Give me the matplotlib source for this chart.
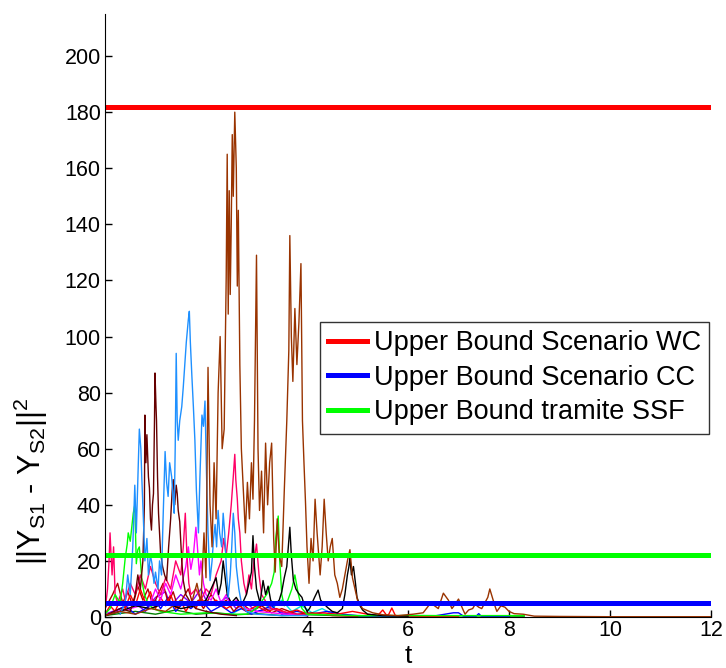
import matplotlib
matplotlib.use("Agg")
import matplotlib.pyplot as plt

plt.rcParams['font.family'] = ['Liberation Sans', 'DejaVu Sans']
plt.rcParams['mathtext.fontset'] = 'custom'
plt.rcParams['mathtext.rm'] = 'Liberation Sans'
plt.rcParams['mathtext.it'] = 'Liberation Sans'

# bounds
bound_wc = 182
bound_cc = 5
bound_ssf = 22

# trajectories: (t, value)
brown_t = [0, 0.3, 0.6, 0.9, 1.2, 1.5, 1.7, 1.82, 1.9, 1.96, 2.0, 2.04, 2.08, 2.12, 2.16, 2.2, 2.24, 2.28,
           2.32, 2.36, 2.4, 2.42, 2.44, 2.46, 2.48, 2.5, 2.52, 2.54, 2.57, 2.6, 2.62, 2.64, 2.67, 2.7, 2.74,
           2.78, 2.82, 2.86, 2.9, 2.93, 2.96, 3.0, 3.03, 3.06, 3.1, 3.14, 3.18, 3.22, 3.26, 3.3, 3.34, 3.37,
           3.41, 3.45, 3.5, 3.55, 3.6, 3.64, 3.66, 3.69, 3.72, 3.76, 3.8, 3.84, 3.88, 3.91, 3.94, 3.97, 4.0,
           4.04, 4.08, 4.12, 4.16, 4.2, 4.26, 4.3, 4.34, 4.38, 4.42, 4.46, 4.5, 4.55, 4.6, 4.65, 4.7, 4.75,
           4.8, 4.85, 4.9, 4.95, 5.0, 5.1, 5.3, 5.5, 5.8, 6.1, 6.3, 6.45, 6.6, 6.7, 6.8, 6.87, 6.95, 7.0,
           7.08, 7.13, 7.2, 7.28, 7.33, 7.4, 7.46, 7.52, 7.58, 7.62, 7.67, 7.72, 7.76, 7.84, 7.92, 8.0, 8.1,
           8.28, 8.5, 9, 10, 11, 12]
brown_y = [0.5, 2, 1, 3, 2, 6, 4, 12, 5, 30, 14, 89, 40, 25, 55, 35, 80, 100,
           60, 67, 121, 165, 108, 152, 115, 140, 172, 150, 180, 160, 118, 145, 90, 60, 45,
           30, 48, 35, 55, 42, 70, 129, 60, 38, 52, 30, 62, 40, 55, 62, 28, 16,
           35, 22, 18, 45, 70, 95, 136, 100, 84, 110, 90, 105, 126, 70, 55, 41, 25,
           12, 28, 20, 42, 30, 15, 25, 42, 30, 20, 25, 28, 15, 12, 7, 10, 15,
           20, 24, 14, 10, 6, 3, 1.5, 0.8, 0.5, 1, 1.5, 5, 3, 8.5, 6, 3, 5, 6.4,
           3, 1, 2.5, 3, 4.5, 3.5, 3, 5, 7, 10, 7, 4, 2, 4, 3.5, 2, 1.2,
           1, 0.3, 0.2, 0.1, 0.1, 0.1]

lblue_t = [0.3, 0.4, 0.45, 0.5, 0.55, 0.59, 0.62, 0.66, 0.68, 0.71, 0.73, 0.76, 0.79, 0.83, 0.86, 0.9, 0.93,
           0.97, 1.0, 1.05, 1.08, 1.12, 1.15, 1.19, 1.22, 1.25, 1.28, 1.32, 1.35, 1.37, 1.39, 1.41, 1.43, 1.45,
           1.48, 1.52, 1.55, 1.58, 1.61, 1.63, 1.65, 1.67, 1.69, 1.72, 1.75, 1.78, 1.81, 1.85, 1.88, 1.92, 1.95,
           1.98, 2.01, 2.04, 2.08, 2.12, 2.15, 2.18, 2.21, 2.24, 2.27, 2.31, 2.34, 2.37, 2.41, 2.44, 2.48, 2.51,
           2.54, 2.57, 2.6, 2.65, 2.7, 2.8, 3.0, 3.5, 4.0]
lblue_y = [1, 5, 15, 8, 25, 47, 30, 55, 67, 60, 49, 35, 20, 28, 15, 22, 19,
           12, 16, 10, 20, 15, 35, 59, 48, 43, 55, 50, 42, 37, 60, 94, 70, 63,
           70, 75, 82, 90, 98, 102, 106, 109, 98, 86, 75, 63, 45, 30, 50, 72, 68,
           77, 51, 30, 13, 20, 28, 33, 25, 38, 30, 25, 37, 30, 15, 7, 15, 25,
           37, 30, 18, 10, 5, 2, 1, 0.5, 0.5]

maroon_t = [0.0, 0.3, 0.5, 0.6, 0.65, 0.7, 0.75, 0.78, 0.79, 0.81, 0.83, 0.86, 0.88, 0.9, 0.92, 0.94, 0.96,
            0.98, 0.99, 1.01, 1.02, 1.04, 1.06, 1.08, 1.1, 1.14, 1.18, 1.22, 1.26, 1.3, 1.33, 1.35, 1.38, 1.41,
            1.43, 1.45, 1.48, 1.52, 1.55, 1.6, 1.7, 1.8, 2.0, 2.3, 2.6]
maroon_y = [0.5, 3, 2, 8, 15, 10, 20, 40, 72, 55, 65, 50, 46, 35, 31, 40, 44,
            70, 87, 75, 70, 50, 37, 30, 23, 18, 15, 13, 25, 35, 45, 49, 40, 47,
            44, 38, 34, 20, 13, 8, 5, 3, 2, 1, 0.5]

green_t = [0, 0.1, 0.2, 0.3, 0.35, 0.4, 0.44, 0.46, 0.5, 0.53, 0.56, 0.59, 0.62, 0.65, 0.68, 0.71, 0.73,
           0.78, 0.85, 0.95, 1.1, 1.5, 2.0, 2.5, 2.8, 3.0, 3.2, 3.3, 3.35, 3.38, 3.43, 3.46, 3.5, 3.55, 3.62,
           3.7, 3.76, 3.8, 3.83, 3.9, 4.0, 5.0, 6.0, 7.0, 8.3]
green_y = [1, 3, 8, 5, 12, 21, 26, 30, 27, 32, 37, 40, 19, 24, 25, 18, 13,
           8, 5, 3, 2, 1, 1.5, 1, 1, 3, 8, 12, 16, 28, 36, 20, 8, 4, 6,
           10, 15, 11, 8, 3, 1, 0.5, 0.5, 0.5, 0.5]

pink_t = [0, 0.05, 0.08, 0.1, 0.12, 0.14, 0.17, 0.2, 0.25, 0.35, 0.4, 0.5, 0.6, 0.7, 0.8, 0.9, 1.0, 1.1,
          1.2, 1.3, 1.4, 1.5, 1.55, 1.59, 1.62, 1.66, 1.7, 1.8, 1.9, 2.0, 2.1, 2.2, 2.3, 2.35, 2.4, 2.45,
          2.5, 2.54, 2.57, 2.59, 2.62, 2.64, 2.67, 2.7, 2.75, 2.8, 2.85, 2.9, 2.95, 3.0, 3.05, 3.1, 3.2,
          3.3, 3.5, 3.8, 4.0]
pink_y = [2, 10, 20, 30, 22, 15, 25, 8, 5, 10, 6, 12, 8, 15, 10, 18, 12, 8,
          14, 10, 20, 15, 25, 37, 23, 12, 8, 10, 6, 10, 8, 15, 20, 28, 22, 30,
          40, 50, 58, 49, 42, 35, 30, 20, 12, 8, 15, 10, 20, 26, 15, 8, 5,
          3, 2, 1, 0.5]

magenta_t = [0, 0.5, 0.9, 1.0, 1.1, 1.2, 1.3, 1.4, 1.5, 1.6, 1.65, 1.7, 1.75, 1.8, 1.83, 1.87, 1.9, 1.95,
             2.0, 2.1, 2.2, 2.3, 2.4, 2.5, 2.6, 2.8, 3.0, 3.3, 3.6, 4.0]
magenta_y = [1, 3, 5, 10, 6, 12, 8, 15, 10, 18, 25, 17, 22, 32, 25, 15, 20, 12,
             8, 6, 10, 5, 8, 4, 6, 3, 2, 1.5, 1, 0.5]

black_t = [0, 0.3, 0.6, 0.9, 1.2, 1.5, 1.8, 2.0, 2.1, 2.2, 2.25, 2.3, 2.34, 2.38, 2.42, 2.5, 2.6, 2.7,
           2.8, 2.85, 2.9, 2.93, 2.96, 3.0, 3.07, 3.1, 3.13, 3.18, 3.23, 3.28, 3.35, 3.45, 3.5, 3.55, 3.6,
           3.63, 3.66, 3.69, 3.73, 3.78, 3.83, 3.9, 3.95, 4.0, 4.05, 4.1, 4.15, 4.22, 4.27, 4.32, 4.4, 4.5,
           4.6, 4.7, 4.75, 4.8, 4.83, 4.85, 4.88, 4.92, 4.96, 4.99, 5.05, 5.1, 5.2, 5.5, 6.0]
black_y = [0.5, 2, 4, 3, 5, 3, 4, 6, 10, 14, 8, 12, 20, 14, 8, 5, 7, 4,
           8, 12, 16, 29, 18, 10, 5, 9, 13, 8, 11, 6, 4, 6, 9, 14, 18,
           25, 32, 22, 13, 10, 8.5, 7, 4, 2, 3, 5, 7, 9.6, 6, 5, 3.5, 2,
           1.5, 3, 8, 15, 18, 21, 15, 18, 12, 7, 4, 2.5, 1, 0.5, 0.3]

red_t = [0, 0.1, 0.2, 0.3, 0.4, 0.5, 0.6, 0.7, 0.8, 0.9, 1.0, 1.1, 1.2, 1.3, 1.4, 1.5, 1.6, 1.7, 1.8,
         1.9, 2.0, 2.2, 2.4, 2.6, 2.8, 3.0, 3.2, 3.4, 3.6, 3.8, 4.0, 4.3, 4.6, 4.9, 5.2, 5.4, 5.5, 5.58,
         5.62, 5.68, 5.75, 6.0, 6.5, 7.0]
red_y = [1, 4, 2, 6, 3, 8, 4, 10, 5, 9, 3, 7, 4, 8, 3, 6, 2, 5, 3,
         7, 4, 6, 3, 5, 2, 4, 2, 3, 1.5, 2.5, 1, 1.5, 1, 2, 1, 0.5, 2.5, 0.5,
         1, 3.2, 0.5, 0.3, 0.2, 0.2]

dred_t = [0, 0.15, 0.25, 0.35, 0.45, 0.55, 0.65, 0.75, 0.85, 0.95, 1.05, 1.15, 1.25, 1.35, 1.45, 1.55, 1.65,
          1.75, 1.85, 1.95, 2.1, 2.25, 2.4, 2.55, 2.7, 2.9, 3.1, 3.3, 3.5, 3.8, 4.1, 4.5, 5.0]
dred_y = [3, 8, 12, 5, 9, 4, 11, 6, 10, 4, 8, 12, 5, 9, 3, 7, 10,
          4, 6, 3, 8, 4, 6, 2, 5, 2, 4, 1.5, 3, 1, 1.5, 0.5, 0.3]

blue_t = [0, 0.2, 0.4, 0.6, 0.8, 1.0, 1.1, 1.25, 1.4, 1.55, 1.7, 1.9, 2.1, 2.3, 2.5, 2.7, 2.9, 3.1, 3.3,
          3.5, 3.8, 4.1, 4.4, 4.7, 5.0, 5.5, 6.5, 6.9, 7.0, 7.1, 7.35, 7.4, 7.45, 8.0]
blue_y = [0.5, 2, 4, 1, 3, 6, 3, 7, 2, 5, 3, 6, 2, 4, 1.5, 3, 1, 2.5, 4,
          1, 2, 1, 2, 1, 0.5, 0.3, 0.3, 1.5, 1.5, 0.3, 0.3, 1.2, 0.3, 0.2]

purple_t = [0, 0.3, 0.6, 0.8, 1.0, 1.2, 1.3, 1.5, 1.7, 1.9, 2.0, 2.2, 2.4, 2.6, 2.8, 3.0, 3.3, 3.6, 4.0]
purple_y = [1, 3, 5, 2, 7, 9, 4, 8, 5, 10, 6, 4, 7, 3, 5, 2, 3, 1, 0.5]

cyan_t = [2.5, 2.7, 2.9, 3.1, 3.3, 3.5, 3.7, 3.9, 4.1, 4.3, 4.5, 4.8]
cyan_y = [1, 3, 2, 5, 3, 6, 2, 4, 1.5, 3, 1, 0.5]

dgreen_t = [0, 0.2, 0.6, 1.0, 1.4, 1.8, 2.2, 2.6, 3.0, 3.5, 4.0, 5.0, 6.0, 6.2, 8.3]
dgreen_y = [0.5, 1, 2, 1, 2.5, 1, 1.5, 0.8, 1.2, 0.5, 0.8, 0.3, 0.5, 0.5, 0.3]

traces = [
    (dgreen_t, dgreen_y, '#008000'),
    (cyan_t, cyan_y, '#00E0E0'),
    (purple_t, purple_y, '#8000FF'),
    (blue_t, blue_y, '#0000FF'),
    (dred_t, dred_y, '#B00000'),
    (red_t, red_y, '#FF0000'),
    (magenta_t, magenta_y, '#FF00FF'),
    (pink_t, pink_y, '#FF0066'),
    (green_t, green_y, '#00FF00'),
    (black_t, black_y, '#000000'),
    (maroon_t, maroon_y, '#660000'),
    (lblue_t, lblue_y, '#1E90FF'),
    (brown_t, brown_y, '#993300'),
]

fig = plt.figure(figsize=(7.26, 6.68), dpi=100)
ax = fig.add_axes([105 / 726, 51 / 668, 606 / 726, 603 / 668])

for tt, yy, c in traces:
    ax.plot(tt, yy, color=c, lw=1.0)

ax.axhline(bound_wc, color='#FF0000', lw=3.6, label='Upper Bound Scenario WC')
ax.axhline(bound_cc, color='#0000FF', lw=3.6, label='Upper Bound Scenario CC')
ax.axhline(bound_ssf, color='#00FF00', lw=3.6, label='Upper Bound tramite SSF')

ax.set_xlim(0, 12)
ax.set_ylim(0, 215)
ax.set_xticks(range(0, 13, 2))
ax.set_yticks(range(0, 201, 20))
ax.tick_params(direction='in', length=5, width=1, labelsize=15.5, pad=3)
ax.tick_params(axis='x', pad=2)
for s in ['top', 'right']:
    ax.spines[s].set_visible(False)

# x label sits tight under the tick labels, as in the original
fig.text(408 / 726, 0, 't', fontsize=19, ha='center', va='bottom')
ax.set_ylabel(r'||Y$_{\mathrm{S1}}$ - Y$_{\mathrm{S2}}$||$^{\mathrm{2}}$', fontsize=22)
ax.yaxis.set_label_coords(-0.09, 0.225)

leg = ax.legend(loc='upper left', bbox_to_anchor=(215 / 606, (617 - 322) / 603), fontsize=19.5,
                frameon=True, fancybox=False, edgecolor='black', handlelength=1.45,
                handletextpad=0.25, borderpad=0.3, labelspacing=0.32, borderaxespad=0)
leg.get_frame().set_linewidth(1)

fig.savefig('out.png', dpi=100)
